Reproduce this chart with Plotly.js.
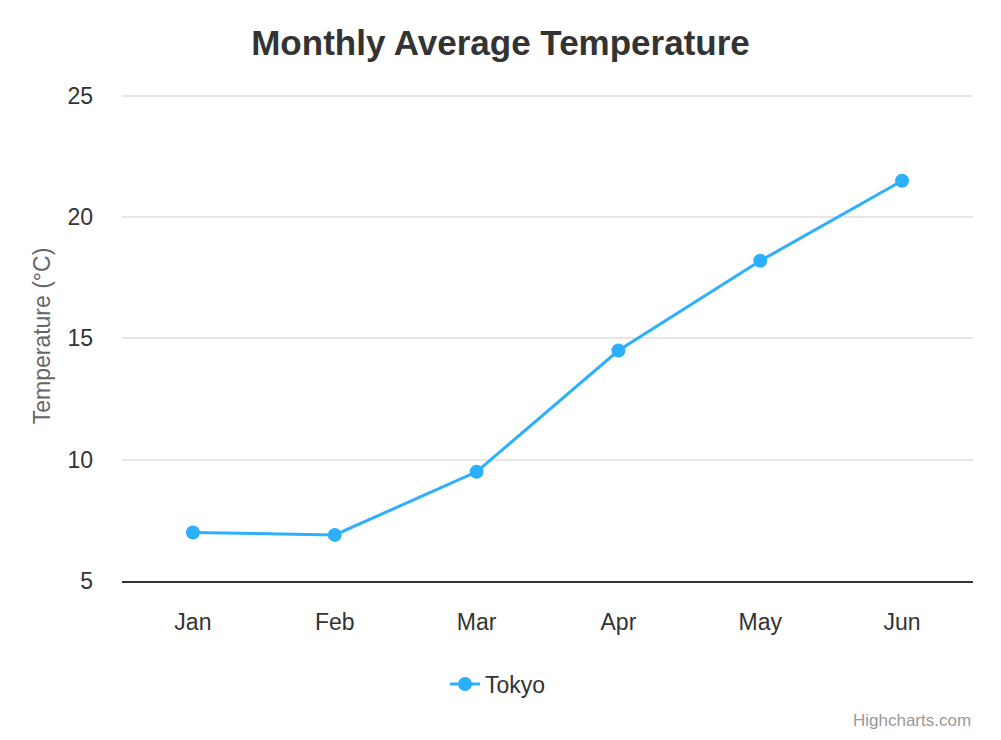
<!DOCTYPE html>
<html>
<head>
<meta charset="utf-8">
<script src="https://cdn.plot.ly/plotly-3.0.1.min.js"></script>
<style>
  html, body { margin: 0; padding: 0; background: #fff; }
  #chart { width: 1001px; height: 740px; }
</style>
</head>
<body>
<div id="chart"></div>
<script>
const months = ["Jan", "Feb", "Mar", "Apr", "May", "Jun"];
const tokyo = [7.0, 6.9, 9.5, 14.5, 18.2, 21.5];
const yTicks = [5, 10, 15, 20, 25];

const font = "Liberation Sans, Arial, sans-serif";

// plot area: bottom edge at 581px, height 490px
const plotBottom = 581;
const plotHeight = 490;

const trace = {
  x: months,
  y: tokyo,
  type: "scatter",
  mode: "lines+markers",
  name: "Tokyo",
  line: { color: "#2caffe", width: 3 },
  marker: { color: "#2caffe", size: 14 },
};

const layout = {
  width: 1001,
  height: 740,
  margin: { l: 122, r: 28, t: 91, b: 159 },
  paper_bgcolor: "#fff",
  plot_bgcolor: "#fff",
  font: { family: font, color: "#333" },
  title: {
    text: "<b>Monthly Average Temperature</b>",
    font: { size: 35, color: "#333", family: font },
    x: 0.5,
    xanchor: "center",
    y: 1 - 43 / 740,
    yanchor: "middle",
  },
  xaxis: {
    type: "category",
    range: [-0.5, 5.5],
    showgrid: false,
    showline: true,
    linecolor: "#333",
    linewidth: 1.5,
    ticks: "",
    ticklabelstandoff: 20,
    tickfont: { size: 23, color: "#333" },
    zeroline: false,
  },
  yaxis: {
    range: [5, 25.2],
    tickvals: yTicks,
    showgrid: true,
    gridcolor: "#e6e6e6",
    gridwidth: 1.5,
    zeroline: false,
    showline: false,
    ticks: "",
    ticklabelstandoff: 28,
    tickfont: { size: 23, color: "#333" },
    title: {
      text: "Temperature (°C)",
      font: { size: 23, color: "#666" },
      standoff: 10,
    },
  },
  showlegend: true,
  legend: {
    orientation: "h",
    x: (498 - 122) / 851,
    xanchor: "center",
    y: (plotBottom - 684) / plotHeight,
    yanchor: "middle",
    font: { size: 23, color: "#333" },
  },
  annotations: [
    {
      text: "Highcharts.com",
      xref: "paper",
      yref: "paper",
      x: 1,
      xanchor: "right",
      y: (plotBottom - 721) / plotHeight,
      yanchor: "middle",
      showarrow: false,
      font: { size: 17, color: "#999" },
    },
  ],
};

Plotly.newPlot("chart", [trace], layout, { displayModeBar: false });
</script>
</body>
</html>
